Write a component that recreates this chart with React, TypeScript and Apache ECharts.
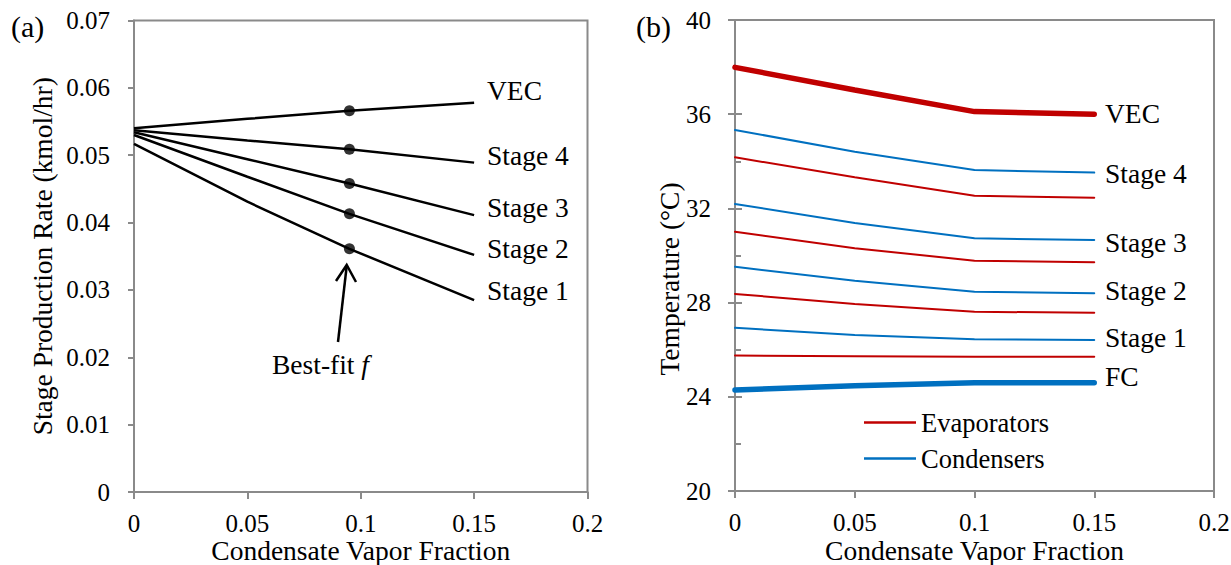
import React, { useEffect, useRef } from "react";
import * as echarts from "echarts";

// ---------- Panel (a) data ----------
const xsA = [0, 0.05, 0.095, 0.15];
const vecA = [0.054, 0.0554, 0.0566, 0.0578];
const stage4A = [0.0537, 0.0522, 0.0509, 0.0489];
const stage3A = [0.0534, 0.0494, 0.0458, 0.0411];
const stage2A = [0.053, 0.0468, 0.0413, 0.0352];
const stage1A = [0.0517, 0.0431, 0.0361, 0.0285];
const bestFitIndex = 2; // x = 0.095 (best-fit f)
const seriesA = [
  { name: "VEC", values: vecA },
  { name: "Stage 4", values: stage4A },
  { name: "Stage 3", values: stage3A },
  { name: "Stage 2", values: stage2A },
  { name: "Stage 1", values: stage1A },
];

// ---------- Panel (b) data ----------
const xsB = [0, 0.05, 0.1, 0.15];
const vecB = [37.99, 37.03, 36.11, 36.0];
const cond4 = [35.33, 34.41, 33.63, 33.52];
const evap4 = [34.17, 33.32, 32.54, 32.45];
const cond3 = [32.19, 31.38, 30.73, 30.66];
const evap3 = [31.01, 30.31, 29.78, 29.71];
const cond2 = [29.52, 28.93, 28.46, 28.4];
const evap2 = [28.37, 27.94, 27.61, 27.57];
const cond1 = [26.93, 26.62, 26.44, 26.41];
const evap1 = [25.75, 25.72, 25.7, 25.7];
const fcB = [24.29, 24.47, 24.6, 24.6];

const xTicks = [0, 0.05, 0.1, 0.15, 0.2];
const yTicksA = [0, 0.01, 0.02, 0.03, 0.04, 0.05, 0.06, 0.07];
const yTicksB = [20, 24, 28, 32, 36, 40];

const RED = "#C00000";
const BLUE = "#0070C0";
const AXIS = "#8A8A8A";
const FONT = '"Liberation Serif", "Times New Roman", serif';

const pairs = (xs: number[], ys: number[]) => xs.map((x, i) => [x, ys[i]]);

export default function App() {
  const ref = useRef<HTMLDivElement>(null);

  useEffect(() => {
    if (!ref.current) return;
    const chart = echarts.init(ref.current, undefined, { renderer: "svg" });

    const tickLabel = { color: "#000", fontFamily: FONT, fontSize: 25 };
    const axisLineStyle = { lineStyle: { color: AXIS, width: 2 } };

    const lineA = seriesA.map((s) => ({
      type: "line",
      name: s.name,
      xAxisIndex: 0,
      yAxisIndex: 0,
      data: pairs(xsA, s.values),
      symbol: "none",
      lineStyle: { color: "#000", width: 2.5 },
      itemStyle: { color: "#000" },
      silent: true,
    }));

    const dotsA = {
      type: "scatter",
      name: "Best-fit",
      xAxisIndex: 0,
      yAxisIndex: 0,
      data: seriesA.map((s) => [xsA[bestFitIndex], s.values[bestFitIndex]]),
      symbol: "circle",
      symbolSize: 11,
      itemStyle: { color: "#000" },
      z: 5,
    };

    const mkB = (name: string, values: number[], color: string, width: number) => ({
      type: "line",
      name,
      xAxisIndex: 1,
      yAxisIndex: 1,
      data: pairs(xsB, values),
      symbol: "none",
      lineStyle: { color, width, cap: "round" },
      itemStyle: { color },
      silent: true,
    });

    const seriesB = [
      mkB("VEC", vecB, RED, 5.5),
      mkB("Condensers", cond4, BLUE, 2),
      mkB("Evaporators", evap4, RED, 2),
      mkB("Condensers", cond3, BLUE, 2),
      mkB("Evaporators", evap3, RED, 2),
      mkB("Condensers", cond2, BLUE, 2),
      mkB("Evaporators", evap2, RED, 2),
      mkB("Condensers", cond1, BLUE, 2),
      mkB("Evaporators", evap1, RED, 2),
      mkB("FC", fcB, BLUE, 5.5),
    ];

    const txt = (text: string, x: number, y: number, size = 27, extra: any = {}) => ({
      type: "text",
      x,
      y,
      silent: true,
      style: {
        text,
        fill: "#000",
        font: `${size}px ${FONT}`,
        textAlign: "left",
        textVerticalAlign: "middle",
        ...extra,
      },
    });

    const labelsA = [
      ["VEC", 90],
      ["Stage 4", 155],
      ["Stage 3", 207],
      ["Stage 2", 248],
      ["Stage 1", 290],
    ].map(([t, y]) => txt(t as string, 487, y as number, 27.5));

    const labelsB = [
      ["VEC", 113],
      ["Stage 4", 173],
      ["Stage 3", 242],
      ["Stage 2", 290],
      ["Stage 1", 337],
      ["FC", 376],
    ].map(([t, y]) => txt(t as string, 1105, y as number, 27.5));

    const xAxisCommon = (gridIndex: number, gap: number) => ({
      type: "value",
      gridIndex,
      min: xTicks[0],
      max: xTicks[xTicks.length - 1],
      interval: 0.05,
      axisLine: axisLineStyle,
      axisTick: { show: true, length: 7, lineStyle: { color: AXIS, width: 2 } },
      splitLine: { show: false },
      axisLabel: { ...tickLabel, margin: 19, formatter: (v: number) => String(+v.toFixed(2)) },
      name: "Condensate Vapor Fraction",
      nameLocation: "middle",
      nameGap: gap,
      nameMoveOverlap: false,
      nameTextStyle: { color: "#000", fontFamily: FONT, fontSize: 27.5 },
    });

    const option: any = {
      animation: false,
      backgroundColor: "#fff",
      grid: [
        { left: 134, top: 20.5, width: 453.5, height: 471.5, show: true, borderColor: AXIS, borderWidth: 2, containLabel: false, outerBoundsMode: "none" },
        { left: 735, top: 20, width: 479, height: 471, show: true, borderColor: AXIS, borderWidth: 2, containLabel: false, outerBoundsMode: "none" },
      ],
      xAxis: [xAxisCommon(0, 44.5), xAxisCommon(1, 45.5)],
      yAxis: [
        {
          type: "value",
          gridIndex: 0,
          min: yTicksA[0],
          max: yTicksA[yTicksA.length - 1],
          interval: 0.01,
          axisLine: axisLineStyle,
          axisTick: { show: true, length: 6, lineStyle: { color: AXIS, width: 2 } },
          splitLine: { show: false },
          axisLabel: { ...tickLabel, margin: 24, formatter: (v: number) => (v === 0 ? "0" : v.toFixed(2)) },
          name: "Stage Production Rate (kmol/hr)",
          nameLocation: "middle",
          nameGap: 78,
          nameMoveOverlap: false,
          nameTextStyle: { color: "#000", fontFamily: FONT, fontSize: 27.5 },
        },
        {
          type: "value",
          gridIndex: 1,
          min: yTicksB[0],
          max: yTicksB[yTicksB.length - 1],
          interval: 4,
          axisLine: axisLineStyle,
          axisTick: { show: true, length: 7, lineStyle: { color: AXIS, width: 2 } },
          splitLine: { show: false },
          axisLabel: { ...tickLabel, margin: 24 },
        },
        {
          type: "value",
          gridIndex: 1,
          position: "left",
          min: yTicksB[0],
          max: yTicksB[yTicksB.length - 1],
          interval: 4,
          axisLine: { show: false },
          axisTick: { show: true, inside: true, length: 7, lineStyle: { color: AXIS, width: 2 } },
          minorTick: { show: true, splitNumber: 2, length: 6, lineStyle: { color: AXIS, width: 2 } },
          splitLine: { show: false },
          minorSplitLine: { show: false },
          axisLabel: { show: false },
        },
      ],
      legend: {
        data: ["Evaporators", "Condensers"],
        orient: "vertical",
        left: 864,
        top: 409,
        padding: 0,
        icon: "rect",
        itemWidth: 52,
        itemHeight: 2.5,
        itemGap: 9,
        textStyle: { color: "#000", fontFamily: FONT, fontSize: 26.5 },
        selectedMode: false,
      },
      series: [...lineA, dotsA, ...seriesB],
      graphic: [
        txt("(a)", 11, 26, 30),
        txt("(b)", 636, 26, 30),
        ...labelsA,
        ...labelsB,
        {
          type: "text",
          x: 272,
          y: 364,
          silent: true,
          style: {
            text: "{n|Best-fit }{i|f}",
            textVerticalAlign: "middle",
            rich: {
              n: { fontFamily: FONT, fontSize: 27.5, fill: "#000" },
              i: { fontFamily: FONT, fontSize: 27.5, fontStyle: "italic", fill: "#000" },
            },
          },
        },
        {
          type: "polyline",
          silent: true,
          shape: { points: [[338, 342], [346.7, 266]] },
          style: { stroke: "#000", lineWidth: 2.5, fill: null },
        },
        {
          type: "polyline",
          silent: true,
          shape: { points: [[336, 281], [346.7, 265], [356, 282]] },
          style: { stroke: "#000", lineWidth: 2.5, fill: null },
        },
        {
          type: "text",
          x: 669,
          y: 279,
          rotation: Math.PI / 2,
          silent: true,
          style: {
            text: "Temperature (°C)",
            fill: "#000",
            font: `27.5px ${FONT}`,
            textAlign: "center",
            textVerticalAlign: "middle",
          },
        },
      ],
    };

    chart.setOption(option);
    return () => chart.dispose();
  }, []);

  return (
    <div
      ref={ref}
      style={{ position: "fixed", left: 0, top: 0, width: 1231, height: 565, background: "#fff" }}
    />
  );
}
